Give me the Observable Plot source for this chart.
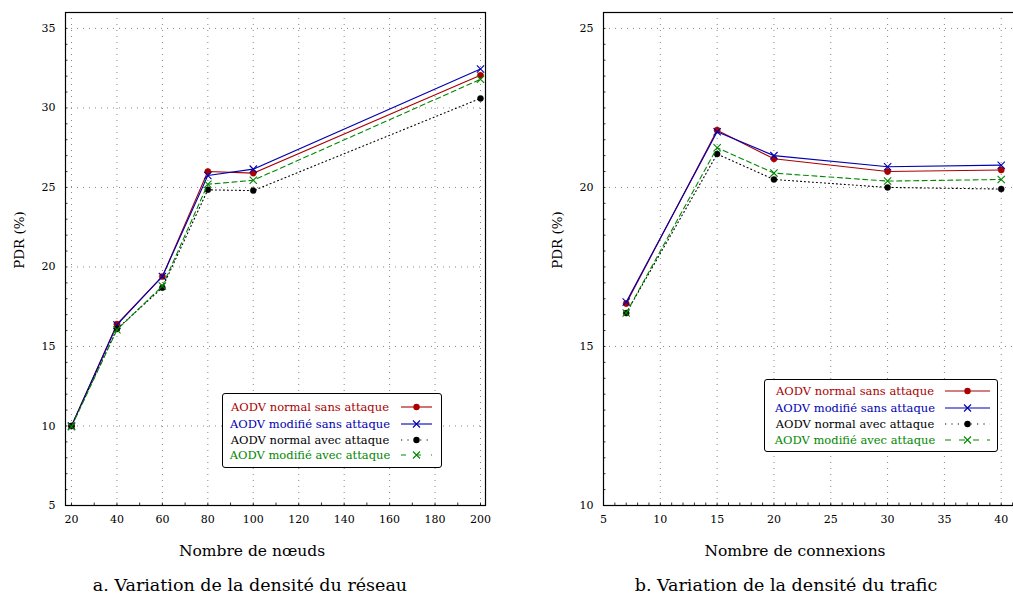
<!DOCTYPE html>
<html>
<head>
<meta charset="utf-8">
<script src="https://cdn.jsdelivr.net/npm/d3@7"></script>
<script src="https://cdn.jsdelivr.net/npm/@observablehq/plot@0.6"></script>
<style>
  html, body { margin: 0; padding: 0; background: #fff; }
  #root { position: relative; width: 1013px; height: 599px; overflow: hidden; background: #fff; font-family: "DejaVu Serif", serif; color: #000; }
  .abs { position: absolute; white-space: nowrap; }
  .plotbox { position: absolute; width: 500px; height: 530px; }
  .plotbox svg { max-width: none !important; }
  .legend { position: absolute; border: 1px solid #000; border-radius: 3px; background: #fff; box-sizing: border-box; }
  .legend span { position: absolute; transform: translate(-50%, -50%); font-size: 11.5px; white-space: nowrap; }
  .legend svg { position: absolute; overflow: visible; }
</style>
</head>
<body>
<div id="root">
  <div id="left" class="plotbox" style="left:0;top:0"></div>
  <div id="right" class="plotbox" style="left:538px;top:0"></div>
</div>
<script>
// ---------- data ----------
const seriesNames = ["AODV normal sans attaque", "AODV modifié sans attaque", "AODV normal avec attaque", "AODV modifié avec attaque"];
const seriesColors = ["#aa0000", "#0000b0", "#000000", "#008800"];

// chart a : network density
const nodes = [20, 40, 60, 80, 100, 200];
const aNormalSans  = [10.0, 16.4, 19.4, 26.0, 25.9, 32.05];
const aModifSans   = [10.0, 16.35, 19.4, 25.75, 26.15, 32.45];
const aNormalAvec  = [10.0, 16.1, 18.7, 24.85, 24.8, 30.6];
const aModifAvec   = [9.95, 16.05, 18.8, 25.2, 25.45, 31.8];
const aXTicks = [20, 40, 60, 80, 100, 120, 140, 160, 180, 200];
const aYTicks = [5, 10, 15, 20, 25, 30, 35];

// chart b : traffic density
const connections = [7, 15, 20, 30, 40];
const bNormalSans  = [16.35, 21.8, 20.9, 20.5, 20.55];
const bModifSans   = [16.4, 21.75, 21.0, 20.65, 20.7];
const bNormalAvec  = [16.05, 21.05, 20.25, 20.0, 19.95];
const bModifAvec   = [16.05, 21.25, 20.45, 20.2, 20.25];
const bXTicks = [5, 10, 15, 20, 25, 30, 35, 40];
const bYTicks = [10, 15, 20, 25];

const yLabel = "PDR (%)";
const aXLabel = "Nombre de nœuds";
const bXLabel = "Nombre de connexions";
const aCaption = "a. Variation de la densité du réseau";
const bCaption = "b. Variation de la densité du trafic";

// ---------- styles ----------
const styles = [
  {dash: null, symbol: "circle", r: 3.1, fill: true},
  {dash: null, symbol: "times", r: 3.4, fill: false},
  {dash: "1,3", symbol: "circle", r: 3.0, fill: true},
  {dash: "5,3.5", symbol: "times", r: 3.4, fill: false}
];

function makeChart(xs, valuesList, xDomain, yDomain, xTicks, yTicks, xMinor, yMinor) {
  const marks = [
    Plot.gridX(xTicks, {stroke: "#888", strokeOpacity: 1, strokeWidth: 1, strokeDasharray: "1,5"}),
    Plot.gridY(yTicks, {stroke: "#888", strokeOpacity: 1, strokeWidth: 1, strokeDasharray: "1,5"}),
    Plot.ruleX(xMinor, {x: d => d, y1: yDomain[0], y2: yDomain[0], insetBottom: 2.5, stroke: "#000", strokeWidth: 0.8}),
    Plot.ruleY(yMinor, {y: d => d, x1: xDomain[0], x2: xDomain[0], insetRight: -2.5, stroke: "#000", strokeWidth: 0.8}),
    Plot.axisX(xTicks, {tickSize: 0, tickPadding: 10, fontSize: 11, label: null}),
    Plot.axisY(yTicks, {tickSize: 0, tickPadding: 10, fontSize: 11, label: null})
  ];
  valuesList.forEach((vals, k) => {
    const d = xs.map((x, i) => ({x, y: vals[i]}));
    const st = styles[k];
    marks.push(Plot.line(d, {x: "x", y: "y", stroke: seriesColors[k], strokeWidth: 1.1, strokeDasharray: st.dash}));
    marks.push(Plot.dot(d, {x: "x", y: "y", symbol: st.symbol, r: st.r,
      fill: st.fill ? seriesColors[k] : "none", stroke: seriesColors[k], strokeWidth: st.fill ? 0.5 : 1.1}));
  });
  marks.push(Plot.frame({stroke: "#000", strokeWidth: 1.2}));
  return Plot.plot({
    width: 500, height: 530,
    marginLeft: 65, marginRight: 15, marginTop: 12, marginBottom: 25,
    x: {domain: xDomain, label: null},
    y: {domain: yDomain, label: null},
    style: {fontFamily: "DejaVu Serif", fontSize: "11px", color: "#000", background: "transparent", overflow: "visible", maxWidth: "none"},
    marks
  });
}

document.getElementById("left").appendChild(makeChart(
  nodes, [aNormalSans, aModifSans, aNormalAvec, aModifAvec],
  [17.36, 202.2], [5, 36], aXTicks, aYTicks,
  d3.range(20, 201, 10), d3.range(5, 36, 1)));

document.getElementById("right").appendChild(makeChart(
  connections, [bNormalSans, bModifSans, bNormalAvec, bModifAvec],
  [5, 41.96], [10, 25.5], bXTicks, bYTicks,
  d3.range(5, 42, 1), d3.range(10, 25.5, 0.5)));

// ---------- text labels ----------
const root = document.getElementById("root");
function addText(txt, cx, cy, size, rotate) {
  const el = document.createElement("div");
  el.className = "abs";
  el.textContent = txt;
  el.style.left = cx + "px";
  el.style.top = cy + "px";
  el.style.fontSize = size + "px";
  el.style.transform = "translate(-50%, -50%)" + (rotate ? " rotate(-90deg)" : "");
  root.appendChild(el);
}
addText(yLabel, 19, 240, 13.5, true);
addText(yLabel, 557, 240, 13.5, true);
addText(aXLabel, 252, 551, 15.5);
addText(bXLabel, 795, 551, 15.5);
addText(aCaption, 250, 585, 17.5);
addText(bCaption, 786, 585, 17.5);

// ---------- legends ----------
function swatch(k, len) {
  const st = styles[k], c = seriesColors[k];
  const m = len / 2;
  let dash = "";
  if (k === 2) dash = ` stroke-dasharray="1.2,5.2"`;
  if (k === 3) dash = len > 35 ? ` stroke-dasharray="6,8"` : ` stroke-dasharray="5,10"`;
  let s = `<line x1="0" y1="0" x2="${len}" y2="0" stroke="${c}" stroke-width="1.1"${dash}/>`;
  if (st.symbol === "circle") s += `<circle cx="${m}" cy="0" r="3.2" fill="${c}"/>`;
  else s += `<path d="M${m - 3.5},-3.5L${m + 3.5},3.5M${m - 3.5},3.5L${m + 3.5},-3.5" stroke="${c}" stroke-width="1.1" fill="none"/>`;
  return s;
}
function addLegend(left, top, w, h, textCx, rowsY, swX, swLen) {
  const box = document.createElement("div");
  box.className = "legend";
  box.style.left = left + "px"; box.style.top = top + "px";
  box.style.width = w + "px"; box.style.height = h + "px";
  seriesNames.forEach((name, k) => {
    const sp = document.createElement("span");
    sp.textContent = name;
    sp.style.left = textCx + "px";
    sp.style.top = rowsY[k] + "px";
    sp.style.color = seriesColors[k];
    box.appendChild(sp);
    const svg = document.createElementNS("http://www.w3.org/2000/svg", "svg");
    svg.setAttribute("width", swLen); svg.setAttribute("height", 1);
    svg.style.left = swX + "px"; svg.style.top = rowsY[k] + "px";
    svg.innerHTML = swatch(k, swLen);
    box.appendChild(svg);
  });
  root.appendChild(box);
}
addLegend(222, 393, 220, 75, 87, [13, 29.5, 45.5, 61], 178, 31);
addLegend(764, 379, 234, 73, 90, [11, 27.5, 44, 60], 180, 45);
</script>
</body>
</html>
